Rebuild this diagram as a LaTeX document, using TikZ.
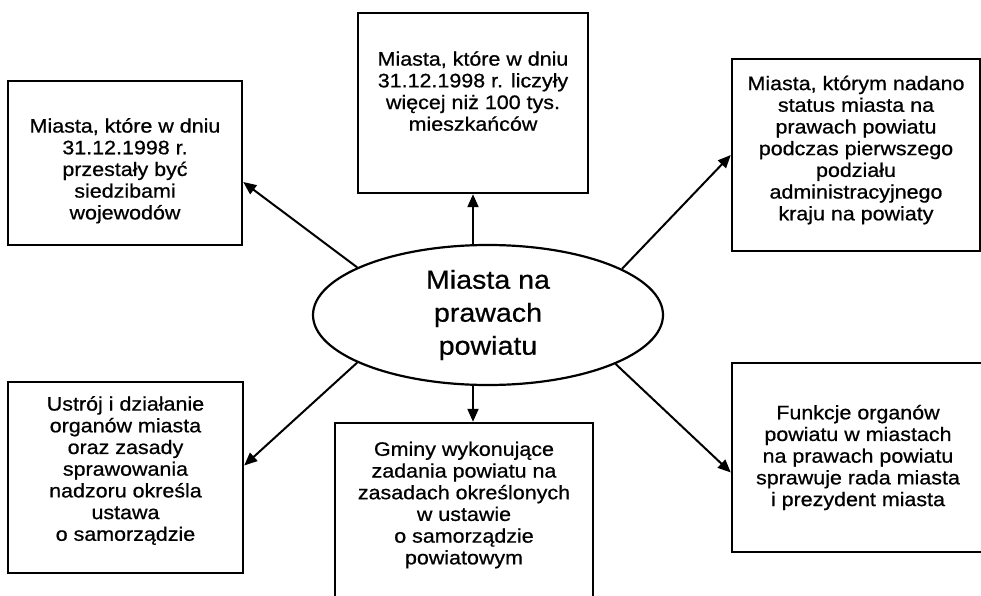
\documentclass[tikz,border=0pt]{standalone}
\usepackage{fontspec}
\setmainfont{Liberation Sans}[FakeStretch=1.1,FakeBold=0.7]
\usetikzlibrary{calc,shapes.geometric,arrows.meta}

\begin{document}
\begin{tikzpicture}[x=1pt,y=-1pt,
    box/.style={draw,line width=2.4pt,align=center,inner sep=0pt,font=\fontsize{19.5}{21.7}\selectfont},
    arr/.style={line width=2pt,-{Triangle[length=13pt,width=11pt]}}]
      \clip (0,0) rectangle (981,596);
      \node[ellipse,draw,line width=2.2pt,minimum width=350,minimum height=140,inner sep=0pt,
            align=center,font=\fontsize{26}{33}\selectfont](M) at (488,315){Miasta na\\prawach\\powiatu};
      % ramki (rule = przesuniecie tekstu w pionie)
      \node[box,minimum width=234,minimum height=164](tl) at (125,163)
            {\rule{0pt}{30pt}Miasta, które w dniu\\31.12.1998 r.\\przestały być\\siedzibami\\wojewodów};
      \node[box,minimum width=230,minimum height=180](tm) at (473,103)
            {Miasta, które w dniu\\31.12.1998 r. liczyły\\więcej niż 100 tys.\\mieszkańców\rule[-24pt]{0pt}{24pt}};
      \node[box,minimum width=248,minimum height=192](tr) at (856,155)
            {Miasta, którym nadano\\status miasta na\\prawach powiatu\\podczas pierwszego\\podziału\\administracyjnego\\kraju na powiaty\rule[-14pt]{0pt}{14pt}};
      \node[box,minimum width=235,minimum height=191](bl) at (125.5,477.5)
            {Ustrój i działanie\\organów miasta\\oraz zasady\\sprawowania\\nadzoru określa\\ustawa\\o samorządzie\rule[-18pt]{0pt}{18pt}};
      \node[box,minimum width=258,minimum height=177](bm) at (464,511.5)
            {Gminy wykonujące\\zadania powiatu na\\zasadach określonych\\w ustawie\\o samorządzie\\powiatowym\rule[-17pt]{0pt}{17pt}};
      \node[box,minimum width=252,minimum height=189](br) at (858,457.5)
            {Funkcje organów\\powiatu w miastach\\na prawach powiatu\\sprawuje rada miasta\\i prezydent miasta};
      % strzalki
      \draw[arr](M.north -| tm.south)--(tm.south);
      \draw[arr](M.south -| tm.south)--(bm.north -| tm.south);
      \draw[arr](M.160.6)--([yshift=-19pt]tl.east);
      \draw[arr](M.19.8)--(tr.west);
      \draw[arr](M.-21.5)--([yshift=-15pt]br.west);
      \draw[arr](M.200.9)--([yshift=12pt]bl.east);
    \end{tikzpicture}
\end{document}
